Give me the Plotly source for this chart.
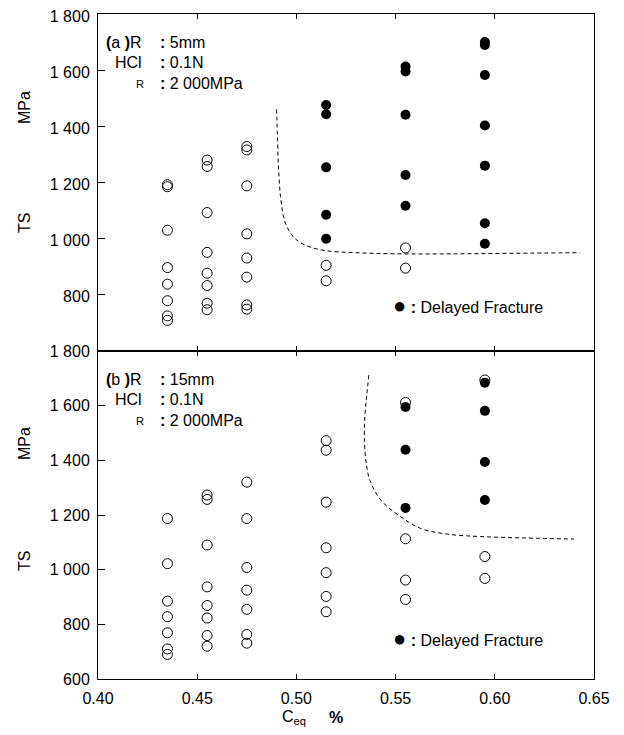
import plotly.graph_objects as go

# ---------------- data ----------------
# Panel (a) R = 5 mm
a_open_x = [0.435]*8 + [0.455]*8 + [0.475]*8 + [0.515]*2 + [0.555]*2
a_open_y = [1192, 1185, 1030, 897, 838, 779, 725, 709,
            1280, 1257, 1093, 951, 877, 833, 770, 747,
            1328, 1316, 1188, 1017, 931, 863, 764, 749,
            905, 850,
            967, 895]
a_fill_x = [0.515]*5 + [0.555]*5 + [0.595]*7
a_fill_y = [1476, 1443, 1254, 1085, 1000,
            1613, 1595, 1441, 1227, 1117,
            1700, 1690, 1583, 1403, 1260, 1055, 982]
a_curve_x = [0.490, 0.4905, 0.491, 0.492, 0.494, 0.4975, 0.5015, 0.507, 0.515, 0.530, 0.550, 0.580, 0.610, 0.643]
a_curve_y = [1460, 1350, 1250, 1150, 1065, 1015, 988, 970, 957, 950, 946, 946, 948, 950]

# Panel (b) R = 15 mm
b_open_x = [0.435]*7 + [0.455]*8 + [0.475]*7 + [0.515]*7 + [0.555]*4 + [0.595]*3
b_open_y = [1187, 1022, 885, 828, 769, 710, 690,
            1273, 1257, 1090, 937, 869, 823, 759, 720,
            1320, 1187, 1008, 925, 855, 763, 731,
            1472, 1437, 1247, 1080, 989, 902, 846,
            1612, 1113, 962, 891,
            1694, 1048, 968]
b_fill_x = [0.555]*3 + [0.595]*4
b_fill_y = [1595, 1439, 1226,
            1684, 1581, 1394, 1255]
b_curve_x = [0.5365, 0.5355, 0.5345, 0.5343, 0.5352, 0.5370, 0.5425, 0.5525, 0.5626, 0.5761, 0.593, 0.615, 0.640]
b_curve_y = [1712, 1640, 1560, 1470, 1390, 1328, 1255, 1194, 1151, 1130, 1121, 1116, 1112]

x_ticks = [0.40, 0.45, 0.50, 0.55, 0.60, 0.65]
x_ticktext = ["0.40", "0.45", "0.50", "0.55", "0.60", "0.65"]
ya_ticks = [800, 1000, 1200, 1400, 1600, 1800]
ya_ticktext = ["800", "1 000", "1 200", "1 400", "1 600", "1 800"]
yb_ticks = [600, 800, 1000, 1200, 1400, 1600, 1800]
yb_ticktext = ["600", "800", "1 000", "1 200", "1 400", "1 600", "1 800"]

FONT = "Arial, Liberation Sans, sans-serif"
OFF = 8  # default page body margin
W, H = 624 - 2 * OFF, 735 - 2 * OFF
L, T = 98 - OFF, 14 - OFF
R = W - (594 - OFF)
B = H - (679 - OFF)
PW, PH = W - L - R, H - T - B
split = (679 - 351) / PH

fig = go.Figure()

open_marker = dict(symbol="circle-open", size=10, color="black", line=dict(width=1, color="black"))
fill_marker = dict(symbol="circle", size=10, color="black", line=dict(width=0))

# top panel (a)
fig.add_trace(go.Scatter(x=a_curve_x, y=a_curve_y, mode="lines", xaxis="x2", yaxis="y2",
                         line=dict(color="black", width=1, dash="4px,3px"), line_shape="spline", showlegend=False))
fig.add_trace(go.Scatter(x=a_open_x, y=a_open_y, mode="markers", xaxis="x2", yaxis="y2",
                         marker=open_marker, showlegend=False))
fig.add_trace(go.Scatter(x=a_fill_x, y=a_fill_y, mode="markers", xaxis="x2", yaxis="y2",
                         marker=fill_marker, showlegend=False))
# bottom panel (b)
fig.add_trace(go.Scatter(x=b_curve_x, y=b_curve_y, mode="lines", xaxis="x", yaxis="y",
                         line=dict(color="black", width=1, dash="4px,3px"), line_shape="spline", showlegend=False))
fig.add_trace(go.Scatter(x=b_open_x, y=b_open_y, mode="markers", xaxis="x", yaxis="y",
                         marker=open_marker, showlegend=False))
fig.add_trace(go.Scatter(x=b_fill_x, y=b_fill_y, mode="markers", xaxis="x", yaxis="y",
                         marker=fill_marker, showlegend=False))

axis_common = dict(showline=True, linecolor="black", linewidth=1, showgrid=False, zeroline=False,
                   ticks="inside", tickcolor="black", tickwidth=1, automargin=False,
                   ticklabeloverflow="allow",
                   tickfont=dict(family=FONT, size=16, color="black"))

fig.update_layout(
    width=W, height=H,
    margin=dict(l=L, r=R, t=T, b=B, autoexpand=False),
    paper_bgcolor="white", plot_bgcolor="white",
    font=dict(family=FONT, size=16, color="black"),
    xaxis=dict(axis_common, domain=[0, 1], anchor="y", range=[0.40, 0.65], tickvals=x_ticks,
               ticktext=x_ticktext, ticklen=5, mirror="ticks", ticklabelstandoff=5),
    yaxis=dict(axis_common, domain=[0, split], anchor="x", range=[600, 1800], tickvals=yb_ticks,
               ticktext=yb_ticktext, ticklen=7, mirror=True, ticklabelstandoff=4),
    xaxis2=dict(axis_common, domain=[0, 1], anchor="y2", range=[0.40, 0.65], tickvals=x_ticks,
                showticklabels=False, ticklen=5, mirror="ticks"),
    yaxis2=dict(axis_common, domain=[split, 1], anchor="x2", range=[600, 1800], tickvals=ya_ticks,
                ticktext=ya_ticktext, ticklen=7, mirror=True, ticklabelstandoff=4,
                ticklabelshift=2),
)

def px_x(px):
    return (px - OFF - L) / PW

def px_y(py):
    return 1 - (py - OFF - T) / PH

anns = []
def add(text, x, y, xanchor="left", size=16, textangle=0):
    anns.append(dict(text=text, x=px_x(x), y=px_y(y), xref="paper", yref="paper",
                     xanchor=xanchor, yanchor="middle", showarrow=False, textangle=textangle,
                     font=dict(family=FONT, size=size, color="black")))

# panel labels
for dy, lab1 in [(0, "<b>(</b>a <b>)</b>R"), (337, "<b>(</b>b <b>)</b>R")]:
    add(lab1, 144, 42 + dy, xanchor="right")
    add("HCl", 144, 62 + dy, xanchor="right")
    add("<sub>R</sub>", 146, 84 + dy, xanchor="right")
add("<b>:</b> 5mm", 158, 42)
add("<b>:</b> 0.1N", 158, 62)
add("<b>:</b> 2 000MPa", 158, 83)
add("<b>:</b> 15mm", 158, 379)
add("<b>:</b> 0.1N", 158, 399)
add("<b>:</b> 2 000MPa", 158, 420)

# delayed fracture keys
dot = "<span style='font-size:22px'>●</span> <b>:</b> Delayed Fracture"
add(dot, 391, 305)
add(dot, 391, 638)

# axis titles
add("TS", 24, 223, xanchor="center", textangle=-90)
add("MPa", 24, 108, xanchor="center", textangle=-90)
add("TS", 24, 561, xanchor="center", textangle=-90)
add("MPa", 24, 444, xanchor="center", textangle=-90)
add("C<sub>eq</sub>", 280, 717)
add("<b>%</b>", 327, 717)

fig.update_layout(annotations=anns)
fig.write_html("out.html")
